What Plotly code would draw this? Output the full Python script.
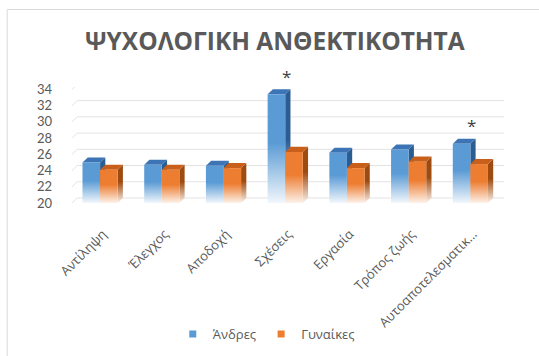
import plotly.graph_objects as go

# Mean scores per resilience dimension, by gender
categories = ["Αντίληψη", "Έλεγχος", "Αποδοχή", "Σχέσεις", "Εργασία",
              "Τρόπος ζωής", "Αυτοαποτελεσματικότητα"]
tick_labels = ["Αντίληψη", "Έλεγχος", "Αποδοχή", "Σχέσεις", "Εργασία",
               "Τρόπος ζωής", "Αυτοαποτελεσματικ..."]
men = [25.0, 24.7, 24.6, 33.4, 26.2, 26.6, 27.3]
women = [24.1, 24.1, 24.3, 26.3, 24.3, 25.1, 24.8]
significant = [False, False, False, True, False, False, True]
y_ticks = [20, 22, 24, 26, 28, 30, 32, 34]
series_names = ["Άνδρες", "Γυναίκες"]

# Pseudo-3D column styling: front / top / side shades and faded base
STYLES = [
    dict(front="#5B9BD5", top="#3C74B5", side="#2B5C92", base="#F2F7FC",
         x0=-0.33, x1=-0.045),
    dict(front="#ED7D31", top="#C8601B", side="#9E4B12", base="#FDF2EA",
         x0=-0.045, x1=0.24),
]
FLOOR = 20
Y_MAX = 34.3
DX = 0.085   # depth offset along x (category units)
DY = 0.62    # depth offset along y (value units)
GRID = "#E3E3E3"
TEXT = "#595959"

fig = go.Figure()

# back-wall gridlines with a short side-wall segment on the left
for v in y_ticks:
    fig.add_trace(go.Scatter(
        x=[-0.5, -0.5 + DX, 6.5 + DX], y=[v, v + DY, v + DY],
        mode="lines", line=dict(color=GRID, width=1),
        hoverinfo="skip", showlegend=False))


def face(xs, ys, color, base=None, y0=None, y1=None):
    kw = dict(fillcolor=color)
    if base is not None:
        kw = dict(fillgradient=dict(
            type="vertical", start=y0, stop=y1,
            colorscale=[[0, base], [0.55, color], [1, color]]))
    return go.Scatter(x=xs + [xs[0]], y=ys + [ys[0]], mode="lines",
                      fill="toself", line=dict(width=0), hoverinfo="skip",
                      showlegend=False, **kw)


for i in range(len(categories)):
    for s, vals in zip(STYLES, (men, women)):
        v = vals[i]
        xl, xr = i + s["x0"], i + s["x1"]
        # side face
        fig.add_trace(face([xr, xr + DX, xr + DX, xr],
                           [FLOOR, FLOOR + DY, v + DY, v],
                           s["side"], s["base"], FLOOR, v + DY))
        # top face
        fig.add_trace(face([xl, xl + DX, xr + DX, xr],
                           [v, v + DY, v + DY, v], s["top"]))
        # front face
        fig.add_trace(face([xl, xr, xr, xl],
                           [FLOOR, FLOOR, v, v],
                           s["front"], s["base"], FLOOR, v))

# legend entries
for name, s in zip(series_names, STYLES):
    fig.add_trace(go.Scatter(
        x=[None], y=[None], mode="markers", name=name,
        marker=dict(symbol="square", size=7, color=s["front"])))

# significance markers (placed in axis-domain units so they may sit above the range)
for i, (flag, v) in enumerate(zip(significant, men)):
    if flag:
        fig.add_annotation(x=i - 0.02, xref="x", yref="y domain",
                           y=(v + 2.2 - FLOOR) / (Y_MAX - FLOOR),
                           text="*", showarrow=False,
                           font=dict(size=17, color="#404040"),
                           yanchor="middle")

# chart frame (left and top edges)
fig.add_shape(type="line", xref="paper", yref="paper",
              x0=-0.150, x1=-0.150, y0=-1.5, y1=1.668,
              line=dict(color="#D9D9D9", width=1))
fig.add_shape(type="line", xref="paper", yref="paper",
              x0=-0.150, x1=1.2, y0=1.668, y1=1.668,
              line=dict(color="#D9D9D9", width=1))

fig.update_layout(
    width=539, height=356,
    margin=dict(l=72, r=35, t=87, b=153, autoexpand=False),
    paper_bgcolor="white", plot_bgcolor="white",
    font=dict(family="Open Sans", color=TEXT),
    title=dict(text="<b>ΨΥΧΟΛΟΓΙΚΗ ΑΝΘΕΚΤΙΚΟΤΗΤΑ</b>", x=0.51, xanchor="center",
               y=0.885, yanchor="middle",
               font=dict(size=24.5, color=TEXT, family="Open Sans")),
    xaxis=dict(range=[-0.5, 6.5], tickmode="array",
               tickvals=list(range(len(categories))), ticktext=tick_labels,
               tickangle=-45, showgrid=False, zeroline=False, showline=False,
               tickfont=dict(size=13, color=TEXT), ticklabelstandoff=20,
               automargin=False, fixedrange=True),
    yaxis=dict(range=[FLOOR, Y_MAX], tickmode="array", tickvals=y_ticks,
               showgrid=False, zeroline=False, showline=False,
               tickfont=dict(size=13, color=TEXT, family="Lato"),
               ticklabelstandoff=19, automargin=False, fixedrange=True),
    legend=dict(orientation="h", xref="container", yref="container",
                x=0.494, xanchor="center", y=0.062, yanchor="middle",
                font=dict(size=13, color=TEXT), itemwidth=30),
    showlegend=True,
)

fig.write_html("out.html")
